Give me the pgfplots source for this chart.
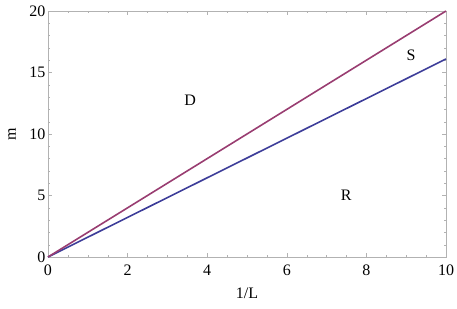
\documentclass[border=0pt]{standalone}
\usepackage{pgfplots}
\pgfplotsset{compat=1.18}
\usepackage{fontspec}
\setmainfont{Liberation Serif}
\definecolor{mblue}{rgb}{0.24,0.24,0.6}
\definecolor{mpurple}{rgb}{0.6,0.24,0.442}
\begin{document}
\begin{tikzpicture}
\path[use as bounding box] (-48pt,-51pt) rectangle (409pt,257pt);
\begin{axis}[
  at={(0,0)}, anchor=south west,
  scale only axis, width=398pt, height=246pt,
  xmin=0, xmax=10, ymin=0, ymax=20,
  xtick={0,2,...,10}, ytick={0,5,...,20},
  minor x tick num=3, minor y tick num=4,
  tick align=inside,
  clip=false,
  axis line style={draw=gray!60, line width=0.6pt},
  major tick style={draw=gray!60, line width=0.5pt},
  minor tick style={draw=gray!60, line width=0.4pt},
  major tick length=4pt, minor tick length=2.5pt,
  tick label style={font=\fontsize{16}{18}\selectfont},
  /pgf/number format/assume math mode=true,
  xticklabel style={yshift=-4pt},
  yticklabel style={xshift=1pt},
]
\addplot[mblue, line width=1.6pt] coordinates {(0,0) (10,16.1)};
\addplot[mpurple, line width=1.6pt] coordinates {(0,0) (10,20)};
\node[font=\fontsize{16}{18}\selectfont] at (axis cs:3.57,12.76) {D};
\node[font=\fontsize{16}{18}\selectfont] at (axis cs:9.12,16.42) {S};
\node[font=\fontsize{16}{18}\selectfont] at (axis cs:7.49,5.04) {R};
\node[font=\fontsize{16}{18}\selectfont, rotate=90] at (rel axis cs:0,0.5) [yshift=36pt] {m};
\node[font=\fontsize{16}{18}\selectfont] at (rel axis cs:0.5,0) [yshift=-36pt] {1/L};
\end{axis}
\end{tikzpicture}
\end{document}
